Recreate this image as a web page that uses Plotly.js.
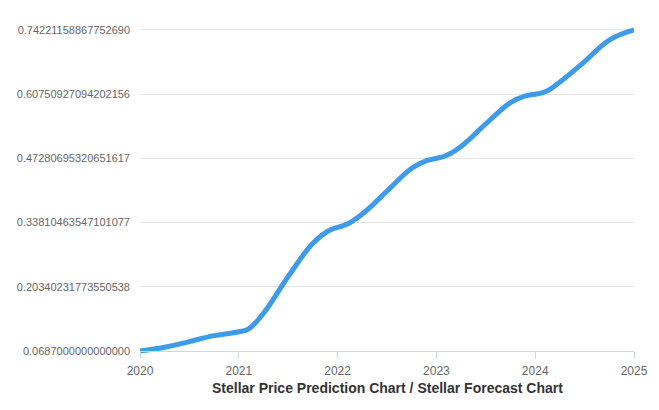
<!DOCTYPE html>
<html>
<head>
<meta charset="utf-8">
<script src="https://cdn.plot.ly/plotly-3.0.1.min.js"></script>
<style>
  html, body { margin: 0; padding: 0; background: #fff; }
  #chart { width: 659px; height: 410px; }
</style>
</head>
<body>
<div id="chart"></div>
<script>
// Stellar price forecast
var years = [2020, 2020.25, 2020.5, 2020.75, 2020.9, 2021, 2021.1,
             2021.25, 2021.5, 2021.75, 2021.9, 2022, 2022.1,
             2022.25, 2022.5, 2022.75, 2022.9, 2023, 2023.1,
             2023.25, 2023.5, 2023.75, 2023.9, 2024, 2024.1,
             2024.25, 2024.5, 2024.75, 2025];
var prices = [0.0687, 0.0765, 0.0885, 0.1010, 0.1055, 0.1090, 0.1150,
              0.1480, 0.2250, 0.2950, 0.3200, 0.3280, 0.3350,
              0.3560, 0.4040, 0.4520, 0.4683, 0.4728, 0.4790,
              0.4980, 0.5450, 0.5900, 0.6040, 0.6075, 0.6125,
              0.6330, 0.6760, 0.7210, 0.7422];

var xTickVals = [2020, 2021, 2022, 2023, 2024, 2025];
var xTickText = ['2020', '2021', '2022', '2023', '2024', '2025'];
var yTickVals = [0.0687, 0.20340231773550538, 0.33810463547101077,
                 0.47280695320651617, 0.60750927094202156, 0.7422115886775269];
var yTickText = ['0.0687000000000000', '0.20340231773550538', '0.33810463547101077',
                 '0.47280695320651617', '0.60750927094202156', '0.74221158867752690'];
var xTitle = 'Stellar Price Prediction Chart / Stellar Forecast Chart';

var pad = 0.00838; // keeps the thick line from being clipped

var trace = {
  x: years,
  y: prices,
  type: 'scatter',
  mode: 'lines',
  line: { color: '#3d9be9', width: 5, shape: 'spline', smoothing: 1.2 },
  hoverinfo: 'x+y'
};

var layout = {
  width: 659,
  height: 410,
  margin: { l: 140, r: 25, t: 25.5, b: 55.3 },
  paper_bgcolor: '#fff',
  plot_bgcolor: '#fff',
  showlegend: false,
  font: { family: 'Liberation Sans, Arial, sans-serif', color: '#666666', size: 12 },
  xaxis: {
    range: [2020, 2025],
    tickvals: xTickVals,
    ticktext: xTickText,
    anchor: 'free',
    position: 0.01215,
    showgrid: false,
    zeroline: false,
    showline: true,
    linecolor: '#ccd6eb',
    linewidth: 1,
    ticks: 'outside',
    ticklen: 7,
    tickcolor: '#ccd6eb',
    ticklabelstandoff: 2,
    tickfont: { size: 12, color: '#666666' }
  },
  yaxis: {
    range: [yTickVals[0] - pad, yTickVals[5] + pad],
    tickvals: yTickVals,
    ticktext: yTickText,
    showgrid: true,
    gridcolor: '#e6e6e6',
    gridwidth: 1,
    zeroline: false,
    showline: false,
    ticks: '',
    ticklabelstandoff: 9,
    tickfont: { size: 11, color: '#666666' }
  },
  // axis title placed by hand so it sits close under the year labels
  annotations: [{
    text: '<b>' + xTitle + '</b>',
    xref: 'paper', yref: 'paper',
    x: 0.5, y: -0.101,
    xanchor: 'center', yanchor: 'middle',
    showarrow: false,
    font: { size: 14, color: '#333333' }
  }]
};

Plotly.newPlot('chart', [trace], layout, { displayModeBar: false, staticPlot: true });
</script>
</body>
</html>
